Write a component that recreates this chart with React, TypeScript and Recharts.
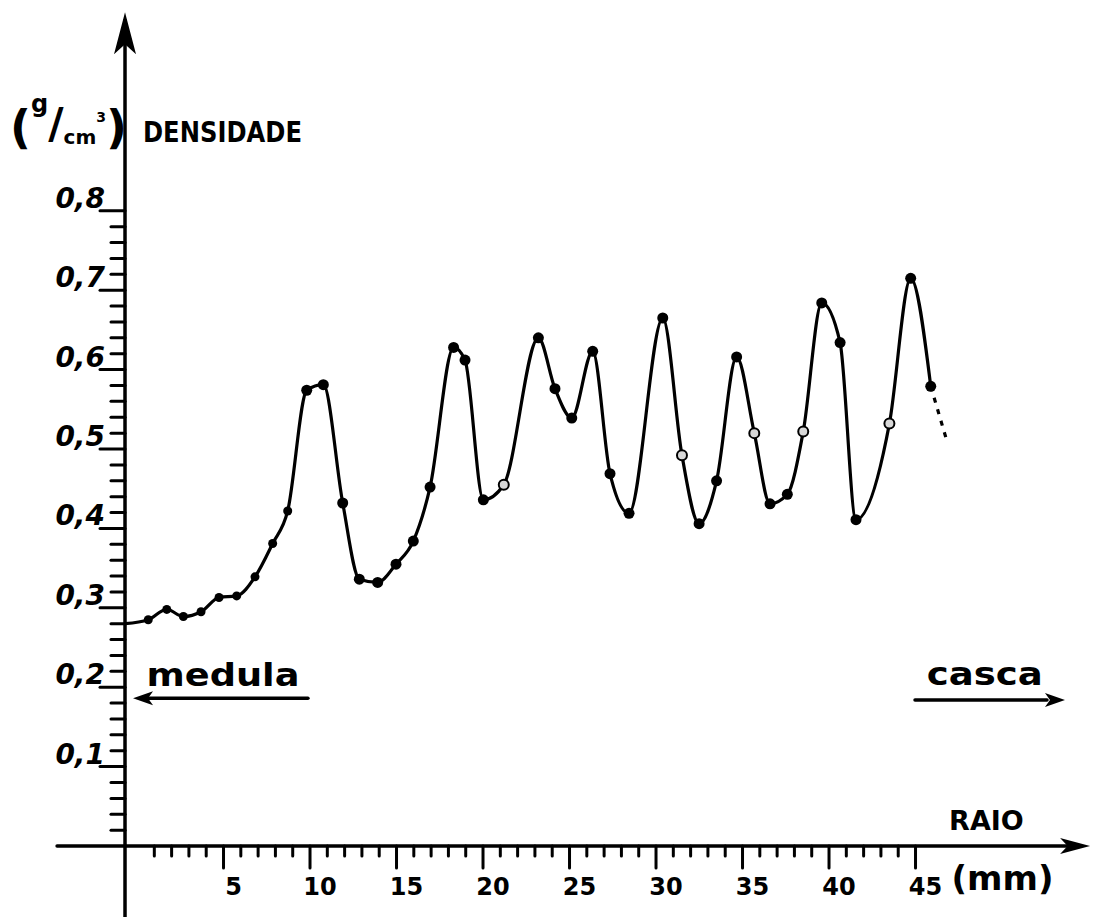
import React from 'react';
import { ComposedChart, Line, XAxis, YAxis, ReferenceLine, ReferenceDot } from 'recharts';

// radius from the pith (mm) and wood density (g/cm3)
const radius = [
  -0.69, 0.65, 1.72, 2.68, 3.7, 4.74, 5.76, 6.82, 7.84, 8.71, 9.81, 10.77, 11.89, 12.85, 13.91,
  14.97, 15.97, 16.94, 18.3, 18.96, 20.02, 21.2, 23.2, 24.16, 25.13, 26.34, 27.34, 28.44, 30.39,
  31.5, 32.49, 33.5, 34.66, 35.68, 36.59, 37.59, 38.51, 39.58, 40.64, 41.56, 43.49, 44.72, 45.88,
];
const density = [
  0.28, 0.285, 0.298, 0.289, 0.295, 0.313, 0.315, 0.339, 0.381, 0.422, 0.574, 0.581, 0.432, 0.336,
  0.332, 0.355, 0.384, 0.452, 0.628, 0.612, 0.436, 0.455, 0.64, 0.576, 0.539, 0.623, 0.469, 0.419,
  0.665, 0.492, 0.406, 0.46, 0.616, 0.52, 0.431, 0.443, 0.522, 0.684, 0.634, 0.411, 0.532, 0.715,
  0.579,
];
// f = filled dot, o = open dot, '' = line start, no dot
const dotKind = [
  '', 'f', 'f', 'f', 'f', 'f', 'f', 'f', 'f', 'f', 'f', 'f', 'f', 'f', 'f', 'f', 'f', 'f', 'f', 'f',
  'f', 'o', 'f', 'f', 'f', 'f', 'f', 'f', 'f', 'o', 'f', 'f', 'f', 'o', 'f', 'f', 'o', 'f', 'f', 'f',
  'o', 'f', 'f',
];

// dashed continuation after the last measurement
const tailRadius = [45.88, 46.8];
const tailDensity = [0.579, 0.511];

const xTickValues = [5, 10, 15, 20, 25, 30, 35, 40, 45];
const xTickLabels = ['5', '10', '15', '20', '25', '30', '35', '40', '45'];
const yTickValues = [0.1, 0.2, 0.3, 0.4, 0.5, 0.6, 0.7, 0.8];
const yTickLabels = ['0,1', '0,2', '0,3', '0,4', '0,5', '0,6', '0,7', '0,8'];

const W = 1097;
const H = 917;
const X_MIN = -7.92;
const X_MAX = 55.49;
const Y_MIN = -0.0894;
const Y_MAX = 1.0655;
const AXIS_X = -0.694; // where the density axis is drawn
const FONT = '"DejaVu Sans", Verdana, sans-serif';
const INK = '#000';

const points = radius.map((x, i) => ({ x, d: density[i], kind: dotKind[i] }));
const tail = tailRadius.map((x, i) => ({ x, d: tailDensity[i] }));

const xMinor = Array.from({ length: 45 }, (_, i) => i + 1);
const yMinor = Array.from({ length: 40 }, (_, i) => +((i + 1) * 0.02).toFixed(2));

const renderDot = (p: any) => {
  const kind = p.payload?.kind;
  if (!kind) return <g key={p.key ?? p.index} />;
  if (kind === 'o')
    return <circle key={p.key ?? p.index} cx={p.cx} cy={p.cy} r={5} fill="#d8d8d8" stroke={INK} strokeWidth={2} />;
  return <circle key={p.key ?? p.index} cx={p.cx} cy={p.cy} r={p.index < 10 ? 4.5 : 5.5} fill={INK} />;
};

const textShape = (s: string, dx: number, dy: number, size: number, extra: any = {}) => (p: any) => (
  <text x={p.cx + dx} y={p.cy + dy} fontSize={size} fontFamily={FONT} fontWeight="bold" fill={INK} {...extra}>
    {s}
  </text>
);

const arrowRight = (len: number, half: number) => (p: any) => (
  <path d={`M${p.cx},${p.cy} L${p.cx - len},${p.cy - half} L${p.cx - len * 0.75},${p.cy} L${p.cx - len},${p.cy + half} Z`} fill={INK} />
);
const arrowLeft = (len: number, half: number) => (p: any) => (
  <path d={`M${p.cx},${p.cy} L${p.cx + len},${p.cy - half} L${p.cx + len * 0.75},${p.cy} L${p.cx + len},${p.cy + half} Z`} fill={INK} />
);
const arrowUp = (p: any) => (
  <path d={`M${p.cx},${p.cy} L${p.cx - 11},${p.cy + 42} L${p.cx},${p.cy + 32} L${p.cx + 11},${p.cy + 42} Z`} fill={INK} />
);

// "(g/cm³)" as one text, g raised and cm lowered round the slash
const unitShape = (p: any) => (
  <text x={p.cx - 115} y={p.cy + 3} fontFamily={FONT} fontWeight="bold" fill={INK}>
    <tspan fontSize={46}>(</tspan>
    <tspan fontSize={24} dy={-31}>g</tspan>
    <tspan fontSize={42} dy={26}>/</tspan>
    <tspan fontSize={20} dy={6}>cm</tspan>
    <tspan fontSize={14} dy={-22}>3</tspan>
    <tspan fontSize={46} dy={21}>)</tspan>
  </text>
);

const line = { stroke: INK, strokeWidth: 3, strokeLinecap: 'round' as const, ifOverflow: 'visible' as const };

export default function App() {
  return (
    <div style={{ position: 'absolute', left: 0, top: 0, background: '#fff' }}>
      <ComposedChart width={W} height={H} margin={{ top: 0, right: 0, bottom: 0, left: 0 }}>
        <XAxis type="number" dataKey="x" domain={[X_MIN, X_MAX]} allowDataOverflow hide />
        <YAxis type="number" domain={[Y_MIN, Y_MAX]} allowDataOverflow hide />

        {/* axes */}
        <ReferenceLine segment={[{ x: AXIS_X, y: 1.04 }, { x: AXIS_X, y: Y_MIN }]} {...line} strokeWidth={3.5} />
        <ReferenceLine segment={[{ x: -4.62, y: 0 }, { x: 54.0, y: 0 }]} {...line} strokeWidth={3.5} />
        <ReferenceDot x={AXIS_X} y={1.05} r={1} ifOverflow="visible" shape={arrowUp} />
        <ReferenceDot x={55.09} y={0} r={1} ifOverflow="visible" shape={arrowRight(30, 8)} />

        {/* minor / major ticks */}
        {xMinor.map((m) => (
          <ReferenceLine
            key={`xt${m}`}
            segment={[{ x: m, y: 0 }, { x: m, y: m % 5 === 0 ? -0.0277 : -0.0126 }]}
            {...line}
          />
        ))}
        {yMinor.map((v) => (
          <ReferenceLine
            key={`yt${v}`}
            segment={[{ x: AXIS_X, y: v }, { x: AXIS_X - (Math.round(v * 100) % 10 === 0 ? 1.445 : 0.81), y: v }]}
            {...line}
          />
        ))}

        {/* tick labels */}
        {xTickValues.map((m, i) => (
          <ReferenceDot key={`xl${m}`} x={m} y={0} r={1} ifOverflow="visible"
            shape={textShape(xTickLabels[i], 10, 49, 24, { textAnchor: 'middle' })} />
        ))}
        {yTickValues.map((v, i) => (
          <ReferenceDot key={`yl${v}`} x={AXIS_X} y={v} r={1} ifOverflow="visible"
            shape={textShape(yTickLabels[i], -20, -3, 28, { textAnchor: 'end', fontStyle: 'italic' })} />
        ))}

        {/* axis titles */}
        <ReferenceDot x={45} y={0} r={1} ifOverflow="visible" shape={textShape('(mm)', 36, 44, 34)} />
        <ReferenceDot x={49.1} y={0} r={1} ifOverflow="visible"
          shape={textShape('RAIO', 0, -16, 27, { textAnchor: 'middle' })} />
        <ReferenceDot x={AXIS_X} y={0.889} r={1} ifOverflow="visible"
          shape={textShape('DENSIDADE', 18, 2, 28, { textLength: 159, lengthAdjust: 'spacingAndGlyphs' })} />
        <ReferenceDot x={AXIS_X} y={0.889} r={1} ifOverflow="visible" shape={unitShape} />

        {/* medula / casca directions */}
        <ReferenceDot x={4.97} y={0.2} r={1} ifOverflow="visible"
          shape={textShape('medula', 0, -1, 32, { textAnchor: 'middle', textLength: 153, lengthAdjust: 'spacingAndGlyphs' })} />
        <ReferenceLine segment={[{ x: 0.6, y: 0.186 }, { x: 9.88, y: 0.186 }]} {...line} strokeWidth={3.5} />
        <ReferenceDot x={-0.23} y={0.186} r={1} ifOverflow="visible" shape={arrowLeft(20, 7)} />
        <ReferenceDot x={49.0} y={0.2} r={1} ifOverflow="visible"
          shape={textShape('casca', 0, -2, 32, { textAnchor: 'middle', textLength: 116, lengthAdjust: 'spacingAndGlyphs' })} />
        <ReferenceLine segment={[{ x: 44.97, y: 0.184 }, { x: 52.6, y: 0.184 }]} {...line} strokeWidth={3.5} />
        <ReferenceDot x={53.64} y={0.184} r={1} ifOverflow="visible" shape={arrowRight(20, 7)} />

        {/* density profile */}
        <Line
          data={points}
          dataKey="d"
          type="monotone"
          stroke={INK}
          strokeWidth={3.2}
          dot={renderDot}
          activeDot={false}
          isAnimationActive={false}
        />
        <Line
          data={tail}
          dataKey="d"
          type="linear"
          stroke={INK}
          strokeWidth={3.2}
          strokeDasharray="5 7"
          dot={false}
          activeDot={false}
          isAnimationActive={false}
        />
      </ComposedChart>
    </div>
  );
}
